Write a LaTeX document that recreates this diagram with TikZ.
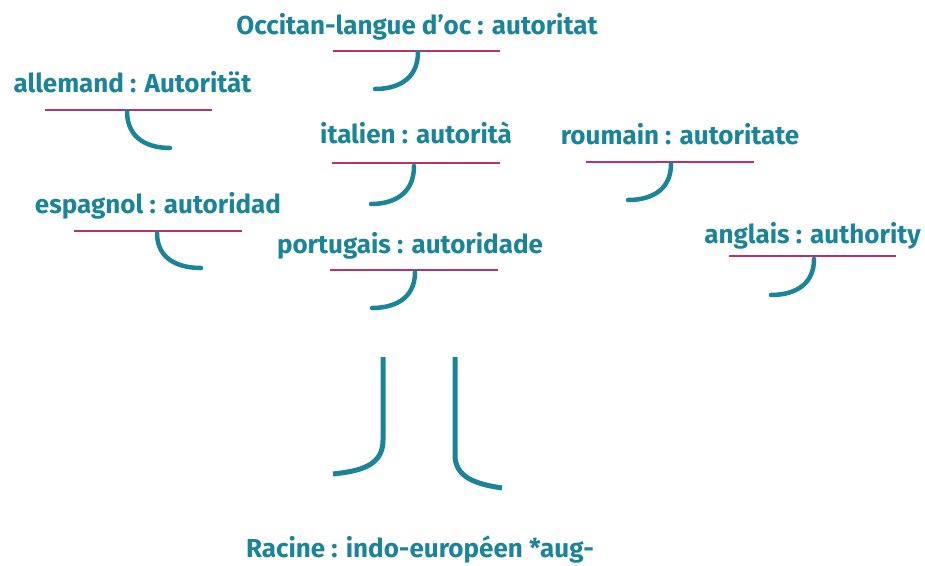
\documentclass[tikz,border=0pt]{standalone}
\usepackage{fontspec}
\setmainfont{Fira Sans}
\usetikzlibrary{calc}
\definecolor{teal}{HTML}{1A8499}
\definecolor{mag}{HTML}{B5336F}
\tikzset{
  lbl/.style={font=\bfseries\fontsize{26}{28}\selectfont, text=teal, anchor=base, inner sep=0pt},
  uline/.style={draw=mag, line width=2pt},
  hook/.style={draw=teal, line width=4.5pt, line cap=round},
  trunk/.style={draw=teal, line width=5pt}
}
\begin{document}
\begin{tikzpicture}[x=1pt,y=-1pt]
\useasboundingbox (0,0) rectangle (925,565);
% labels
\node[lbl] (oc) at (417,34) {Occitan-langue d’oc : autoritat};
\node[lbl] (de) at (132.5,92) {allemand : Autorität};
\node[lbl] (it) at (416,143) {italien : autorità};
\node[lbl] (ro) at (680,144) {roumain : autoritate};
\node[lbl] (es) at (158,213) {espagnol : autoridad};
\node[lbl] (pt) at (410,253) {portugais : autoridade};
\node[lbl] (en) at (812.5,243) {anglais : authority};
\node[lbl] (rac) at (420,557.5) {Racine : indo-européen *aug-};
% underlines
\coordinate (ocL) at (333,51); \coordinate (ocR) at (500,51);
\coordinate (deL) at (45,110); \coordinate (deR) at (212,110);
\coordinate (itL) at (332,163); \coordinate (itR) at (500,163);
\coordinate (roL) at (586,162); \coordinate (roR) at (754,162);
\coordinate (esL) at (74,231); \coordinate (esR) at (242,231);
\coordinate (ptL) at (330,270); \coordinate (ptR) at (498,270);
\coordinate (enL) at (729,256); \coordinate (enR) at (896,256);
\foreach \a in {oc,de,it,ro,es,pt,en}{\draw[uline] (\a L) -- (\a R);}
% hooks
\coordinate (ocA) at (418,52); \coordinate (ocB) at (375,89);
\coordinate (deA) at (127,111); \coordinate (deB) at (170,148);
\coordinate (itA) at (414,166); \coordinate (itB) at (371,204);
\coordinate (roA) at (671,164); \coordinate (roB) at (628,200);
\coordinate (esA) at (157,233); \coordinate (esB) at (201,268);
\coordinate (ptA) at (415,272); \coordinate (ptB) at (372,308);
\coordinate (enA) at (814,259); \coordinate (enB) at (771,295);
\foreach \a in {oc,de,it,ro,es,pt,en}{
  \draw[hook] (\a A) .. controls ($(\a A)!0.8!(\a A|-\a B)$) and ($(\a B)!0.45!(\a A|-\a B)$) .. (\a B);}
% trunk
\coordinate (tlT) at (383,357); \coordinate (tlB) at (333,474);
\coordinate (trT) at (455,357); \coordinate (trB) at (502,488);
\draw[trunk] (tlT) -- (383,440) .. controls (383,466) and (360,471) .. (tlB);
\draw[trunk] (trT) -- (455,455) .. controls (455,477) and (475,484) .. (trB);
\end{tikzpicture}
\end{document}
